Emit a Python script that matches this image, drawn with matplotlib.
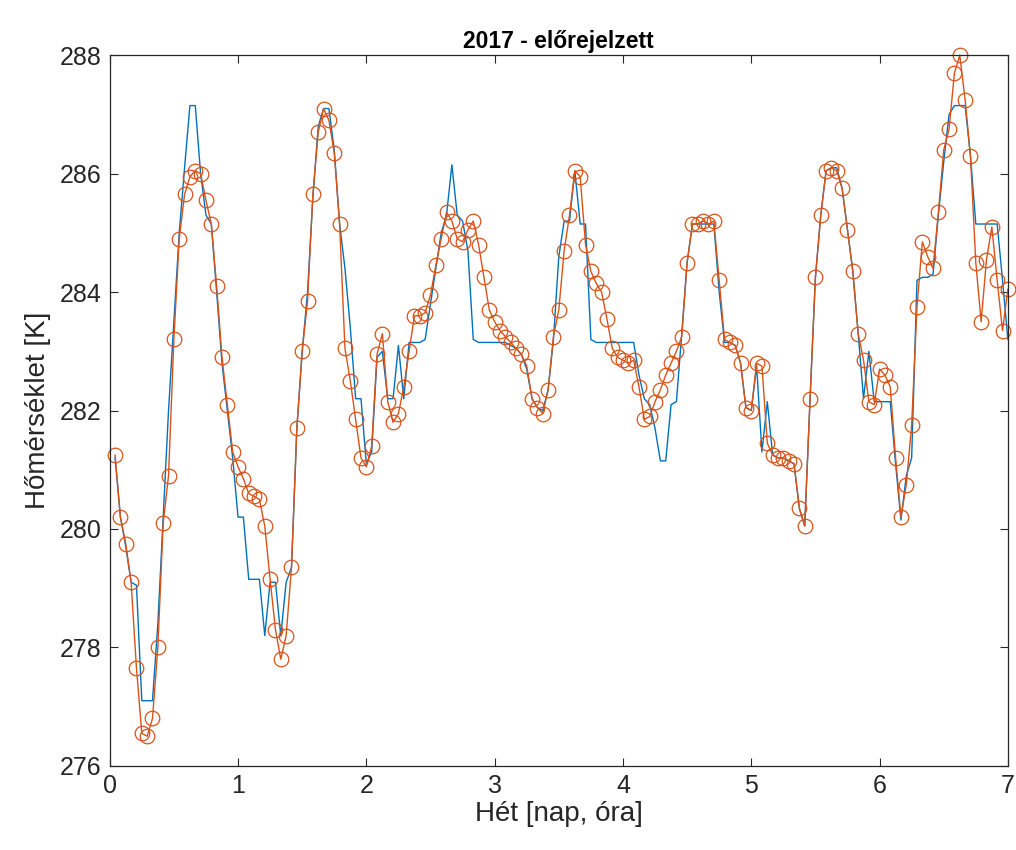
import numpy as np
import matplotlib
matplotlib.use("Agg")
import matplotlib.pyplot as plt

plt.rcParams['font.family'] = ['Liberation Sans', 'DejaVu Sans']

# hourly time axis (days)
hours = np.arange(1, 169)

# forecast (orange, circles)
forecast = [
    281.25, 280.2, 279.75, 279.1, 277.65, 276.55, 276.5, 276.8, 278.0, 280.1, 280.9, 283.2,
    284.9, 285.65, 285.95, 286.05, 286.0, 285.55, 285.15, 284.1, 282.9, 282.1, 281.3, 281.05,
    280.85, 280.6, 280.55, 280.5, 280.05, 279.15, 278.3, 277.8, 278.2, 279.35, 281.7, 283.0,
    283.85, 285.65, 286.7, 287.1, 286.9, 286.35, 285.15, 283.05, 282.5, 281.85, 281.2, 281.05,
    281.4, 282.95, 283.3, 282.15, 281.8, 281.95, 282.4, 283.0, 283.6, 283.6, 283.65, 283.95,
    284.45, 284.9, 285.35, 285.2, 284.9, 284.85, 285.05, 285.2, 284.8, 284.25, 283.7, 283.5,
    283.35, 283.25, 283.15, 283.05, 282.95, 282.75, 282.2, 282.05, 281.95, 282.35, 283.25, 283.7,
    284.7, 285.3, 286.05, 285.95, 284.8, 284.35, 284.15, 284.0, 283.55, 283.05, 282.9, 282.85,
    282.8, 282.85, 282.4, 281.85, 281.9, 282.15, 282.35, 282.6, 282.8, 283.0, 283.25, 284.5,
    285.15, 285.15, 285.2, 285.15, 285.2, 284.2, 283.2, 283.15, 283.1, 282.8, 282.05, 282.0,
    282.8, 282.75, 281.45, 281.25, 281.2, 281.2, 281.15, 281.1, 280.35, 280.05, 282.2, 284.25,
    285.3, 286.05, 286.1, 286.05, 285.75, 285.05, 284.35, 283.3, 282.85, 282.15, 282.1, 282.7,
    282.6, 282.4, 281.2, 280.2, 280.75, 281.75, 283.75, 284.85, 284.6, 284.4, 285.35, 286.4,
    286.75, 287.7, 288.0, 287.25, 286.3, 284.5, 283.5, 284.55, 285.1, 284.2, 283.35, 284.05,
]

# measured (blue line)
measured = [
    281.2, 280.2, 279.7, 279.1, 279.05, 277.1, 277.1, 277.1, 278.4, 280.2, 282.0, 283.5,
    285.0, 286.1, 287.15, 287.15, 286.0, 285.3, 285.15, 284.0, 282.8, 282.0, 281.2, 280.2,
    280.2, 279.15, 279.15, 279.15, 278.2, 279.1, 279.1, 278.2, 279.1, 279.35, 281.7, 283.0,
    284.0, 285.6, 286.8, 287.1, 287.1, 286.4, 285.15, 284.4, 283.4, 282.2, 282.2, 281.1,
    281.3, 282.9, 283.0, 282.2, 282.2, 283.1, 282.2, 283.15, 283.15, 283.15, 283.2, 283.8,
    284.4, 285.0, 285.3, 286.15, 285.3, 285.2, 284.7, 283.2, 283.15, 283.15, 283.15, 283.15,
    283.15, 283.15, 283.1, 283.05, 282.95, 282.7, 282.2, 282.05, 282.0, 282.35, 283.2, 284.6,
    285.2, 285.2, 286.05, 285.15, 285.15, 283.2, 283.15, 283.15, 283.15, 283.15, 283.15, 283.15,
    283.15, 283.15, 282.6, 282.2, 282.1, 281.7, 281.15, 281.15, 282.1, 282.15, 283.3, 284.5,
    285.15, 285.15, 285.15, 285.15, 285.15, 284.0, 283.15, 283.15, 283.1, 282.8, 282.05, 282.0,
    282.75, 281.3, 282.15, 281.25, 281.2, 281.2, 281.15, 281.1, 280.35, 280.05, 282.2, 284.25,
    285.3, 286.05, 286.1, 286.1, 285.75, 285.05, 284.35, 283.3, 282.2, 283.0, 282.15, 282.15,
    282.15, 282.15, 281.1, 280.15, 280.9, 281.2, 284.2, 284.25, 284.25, 284.3, 285.3, 286.2,
    287.0, 287.15, 287.15, 287.15, 286.3, 285.15, 285.15, 285.15, 285.15, 285.15, 284.2, 283.2,
]

x_ticks = [0, 1, 2, 3, 4, 5, 6, 7]
y_ticks = [276, 278, 280, 282, 284, 286, 288]

days = hours / 24

fig = plt.figure(figsize=(10.16, 8.5), dpi=100)
ax = fig.add_axes([0.108, 0.099, 0.884, 0.836])

ax.plot(days, measured, color='#0072BD', linewidth=1.0)
ax.plot(days, forecast, color='#D95319', linewidth=1.0, marker='o', markersize=10.5,
        markerfacecolor='none', markeredgewidth=0.9, clip_on=False)

ax.set_xlim(0, 7)
ax.set_ylim(276, 288)
ax.set_xticks(x_ticks)
ax.set_yticks(y_ticks)

ax.tick_params(direction='in', top=True, right=True, length=6, width=0.8,
               labelsize=18, colors='#262626', pad=6)
for s in ax.spines.values():
    s.set_color('#262626')
    s.set_linewidth(0.9)

ax.set_title('2017 - előrejelzett', fontsize=16.5, fontweight='bold', pad=5)
ax.set_xlabel('Hét [nap, óra]', fontsize=20, color='#262626', labelpad=2)
ax.set_ylabel('Hőmérséklet [K]', fontsize=20, color='#262626', labelpad=6)

plt.savefig('out.png', dpi=100)
plt.close(fig)
